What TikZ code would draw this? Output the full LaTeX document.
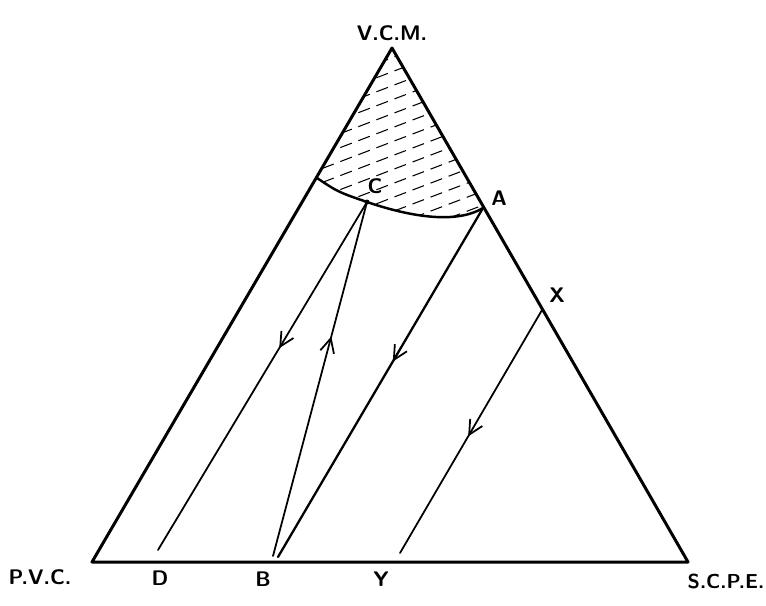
\documentclass[tikz,border=0pt]{standalone}
\usetikzlibrary{arrows.meta,decorations.markings}
\begin{document}
\begin{tikzpicture}[x=0.02cm,y=-0.02cm,
  side/.style={line width=1.7pt,line cap=round,line join=round},
  tie/.style={line width=1.0pt,line cap=round},
  midarrow/.style={postaction={decorate},decoration={markings,
     mark=at position #1 with {\arrow{Straight Barb[length=8pt,width=8pt,line width=1pt]}}}},
  lab/.style={font=\sffamily\bfseries\fontsize{12}{14}\selectfont,inner sep=0pt},
  hatch/.style={line width=0.6pt,dash pattern=on 7pt off 4pt}]
\useasboundingbox (0,0) rectangle (766,605);
% vertices and points
\coordinate (V) at (392,48);
\coordinate (P) at (92,562);
\coordinate (S) at (688,562);
\coordinate (L) at (317,178);
\coordinate (C) at (367,202);
\coordinate (A) at (483,208);
\coordinate (X) at (542,310);
\coordinate (Dend) at (158,550);
\coordinate (Bend) at (273,556);
\coordinate (Bend2) at (278,557);
\coordinate (Yend) at (400,553);
% hatching
\begin{scope}
\clip (V) -- (L) .. controls (338,192) .. (C) .. controls (420,220) and (460,222) .. (A) -- cycle;
\foreach \k in {0,...,13}{
  \draw[hatch] (250,{112+14*\k}) -- (520,{112+14*\k-103});
}
\end{scope}
% triangle
\draw[side] (V) -- (P) -- (S) -- cycle;
% boundary curve
\draw[line width=1.4pt] (L) .. controls (338,192) .. (C) .. controls (420,220) and (460,222) .. (A);
% tie lines
\draw[tie,midarrow=0.42] (C) -- (Dend);
\draw[tie,midarrow=0.62] (Bend) -- (C);
\draw[tie,line width=1.3pt,midarrow=0.44] (A) -- (Bend2);
\draw[tie,midarrow=0.52] (X) -- (Yend);
\fill (C) circle (2.5);
% labels
\node[lab] (tV) at (392,33) {V.C.M.};
\node[lab] (tC) at (375,186) {C};
\node[lab] (tA) at (499,198) {A};
\node[lab] (tX) at (557,295) {X};
\node[lab] (tP) at (40,577) {P.V.C.};
\node[lab] (tD) at (160,578) {D};
\node[lab] (tB) at (263,579) {B};
\node[lab] (tY) at (381,579) {Y};
\node[lab,font=\sffamily\bfseries\fontsize{11.5}{14}\selectfont] (tS) at (726,581) {S.C.P.E.};
\end{tikzpicture}
\end{document}
